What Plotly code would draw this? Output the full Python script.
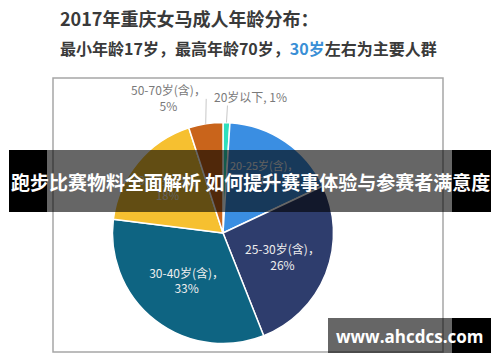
import math
import plotly.graph_objects as go

# ---- data ----
age_groups = ["20岁以下", "20-25岁(含)", "25-30岁(含)", "30-40岁(含)", "40-50岁(含)", "50-70岁(含)"]
shares = [1, 17, 26, 33, 18, 5]
colors = ["#2fe0bd", "#3a8ee2", "#2e3d6d", "#0e6482", "#f6c030", "#c9641b"]
title_line1 = "2017年重庆女马成人年龄分布："
banner_text = "跑步比赛物料全面解析 如何提升赛事体验与参赛者满意度"
watermark_text = "www.ahcdcs.com"

W, H = 500, 362
CX, CY, R = 223, 233, 110.5
FONT = "Noto Sans CJK SC"


def px(x):
    return x / W


def py(y):
    return 1 - y / H


inside_text = []
for lab, v in zip(age_groups, shares):
    if v >= 10:
        inside_text.append(f"{lab}，<br>{v}%")
    else:
        inside_text.append("")

fig = go.Figure()
fig.add_trace(go.Pie(
    labels=age_groups, values=shares, sort=False, direction="clockwise", rotation=0,
    marker=dict(colors=colors, line=dict(color="#ffffff", width=1.5)),
    text=inside_text, textinfo="text", textposition="inside",
    insidetextorientation="horizontal",
    textfont=dict(family=FONT, size=12, color="#eeeeee"),
    domain=dict(x=[px(CX - R), px(CX + R)], y=[py(CY + R), py(CY - R)]),
    showlegend=False, hoverinfo="label+percent",
))

shapes = []
annotations = []

# edge points for small slices (computed from data)
total = sum(shares)
cum = 0
edge = []
for v in shares:
    mid = (cum + v / 2) / total * 2 * math.pi
    edge.append((CX + R * math.sin(mid), CY - R * math.cos(mid)))
    cum += v

def ann(x, y, text, size, color, family=FONT, xanchor="center", yanchor="middle", align="center"):
    return dict(x=px(x), y=py(y), xref="paper", yref="paper", showarrow=False,
                xanchor=xanchor, yanchor=yanchor, align=align, text=text,
                font=dict(family=family, size=size, color=color))

# 20岁以下 label
ex, ey = edge[0]
shapes.append(dict(type="line", xref="paper", yref="paper", x0=px(ex), y0=py(ey), x1=px(ex + 1), y1=py(ey - 17),
                   line=dict(color="#c8c8c8", width=1)))
annotations.append(ann(250, 97, f"{age_groups[0]}, {shares[0]}%", 12, "#7a7a7a"))
# 50-70 label
ex, ey = edge[5]
shapes.append(dict(type="line", xref="paper", yref="paper", x0=px(ex), y0=py(ey), x1=px(ex + 0.5), y1=py(ey - 25),
                   line=dict(color="#c8c8c8", width=1)))
annotations.append(ann(168, 98, f"{age_groups[5]}，<br>{shares[5]}%", 12, "#7a7a7a"))

# frame of the inner chart picture
shapes.append(dict(type="rect", xref="paper", yref="paper", x0=px(53), x1=px(443), y0=py(352), y1=py(78),
                   line=dict(color="#a6a6a6", width=1.5), layer="below"))

# banner overlay
shapes += [
    dict(type="rect", xref="paper", yref="paper", x0=px(9), x1=px(47), y0=py(212), y1=py(150),
         fillcolor="#000000", line=dict(width=0), layer="above"),
    dict(type="rect", xref="paper", yref="paper", x0=px(47), x1=px(452), y0=py(212), y1=py(150),
         fillcolor="rgba(0,0,0,0.6)", line=dict(width=0), layer="above"),
    dict(type="rect", xref="paper", yref="paper", x0=px(452), x1=px(491), y0=py(212), y1=py(150),
         fillcolor="#000000", line=dict(width=0), layer="above"),
    # watermark box
    dict(type="rect", xref="paper", yref="paper", x0=px(328), x1=px(452), y0=py(353), y1=py(318),
         fillcolor="rgba(0,0,0,0.6)", line=dict(width=0), layer="above"),
    dict(type="rect", xref="paper", yref="paper", x0=px(452), x1=px(491), y0=py(353), y1=py(318),
         fillcolor="#000000", line=dict(width=0), layer="above"),
]

annotations += [
    ann(58, 18, f"<b>{title_line1}</b>", 18, "#3a3a3a", xanchor="left"),
    ann(58, 48, "<b>最小年龄17岁，最高年龄70岁，<span style='color:#3a8fd6'>30岁</span>左右为主要人群</b>",
        16, "#3a3a3a", xanchor="left"),
    ann(250, 181, f"<b>{banner_text}</b>", 19, "#ffffff"),
    ann(409, 336, f"<b>{watermark_text}</b>", 17, "#ffffff", family="Open Sans"),
]

fig.update_layout(
    width=W, height=H, margin=dict(l=0, r=0, t=0, b=0),
    paper_bgcolor="#ffffff", plot_bgcolor="#ffffff",
    shapes=shapes, annotations=annotations,
)
fig.write_html("out.html", config={"displayModeBar": False},
               post_script="document.body.style.margin='0px';")
